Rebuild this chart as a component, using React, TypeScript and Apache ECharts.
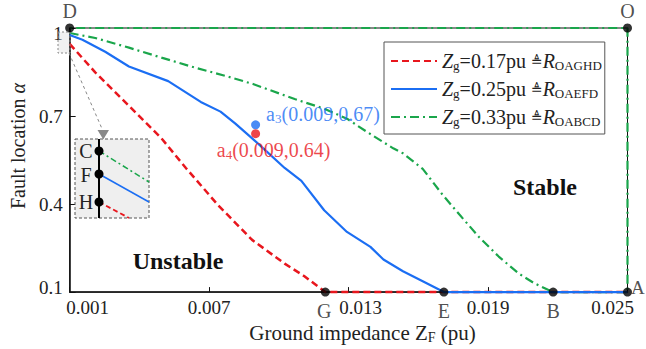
import React, { useEffect, useRef } from "react";
import * as echarts from "echarts";

// Stability boundaries: fault location α versus ground impedance Z_F (pu)
const redX = [0.001, 0.0021, 0.00355, 0.00495, 0.006, 0.0074, 0.00885, 0.01025, 0.0111, 0.012];
const redY = [0.946, 0.849, 0.735, 0.624, 0.523, 0.395, 0.278, 0.197, 0.154, 0.1];

const blueX = [0.001, 0.00155, 0.00253, 0.00355, 0.00524, 0.00664, 0.00749, 0.00813, 0.00919, 0.01025, 0.01097, 0.01195, 0.01293, 0.01394, 0.0145, 0.01534, 0.01619, 0.0171];
const blueY = [0.976, 0.96, 0.919, 0.869, 0.819, 0.748, 0.715, 0.674, 0.6, 0.523, 0.479, 0.379, 0.305, 0.254, 0.211, 0.171, 0.137, 0.1];

const greenX = [0.001, 0.0021, 0.00355, 0.00495, 0.00635, 0.00779, 0.00889, 0.01068, 0.01195, 0.01293, 0.01377, 0.01492, 0.01534, 0.01619, 0.01704, 0.01776, 0.01861, 0.01946, 0.02031, 0.02099, 0.0218];
const greenY = [0.983, 0.966, 0.933, 0.899, 0.866, 0.835, 0.809, 0.758, 0.725, 0.691, 0.647, 0.59, 0.573, 0.52, 0.432, 0.365, 0.288, 0.221, 0.164, 0.13, 0.1];

const zgValues = [0.17, 0.25, 0.33];
const regionNames = ["OAGHD", "OAEFD", "OABCD"];

// Corner / boundary points of the regions
const pointNames = ["D", "O", "A", "G", "E", "B"];
const pointX = [0.001, 0.025, 0.025, 0.012, 0.0171, 0.0218];
const pointY = [1, 1, 0.1, 0.1, 0.1, 0.1];

// Operating points
const opSub = ["3", "4"];
const opX = [0.009, 0.009];
const opY = [0.67, 0.64];

const xTickLabels = ["0.001", "0.007", "0.013", "0.019", "0.025"];
const yTickLabels = ["0.1", "0.4", "0.7", "1"];

const SERIF = "Liberation Serif";
const RED = "#e8161d";
const BLUE = "#1b6ef3";
const GREEN = "#1aa64b";
const INK = "#222";

const subStyle = { fontSize: 13, fontFamily: SERIF, verticalAlign: "bottom", lineHeight: 22 };

// label nudges so that end labels sit inside the frame and clear the point letters
const xLabelPad = [[0, 0, 0, 36], [0, 0, 0, 0], [0, 0, 0, 24], [0, 0, 0, 0], [0, 30, 0, 0]];
const yLabelPad = [[0, 0, 9, 0], [0, 0, 0, 0], [0, 0, 0, 0], [10, 0, 0, 0]];

export default function App() {
  const ref = useRef<HTMLDivElement>(null);

  useEffect(() => {
    if (!ref.current) return;
    const chart = echarts.init(ref.current, null, { renderer: "svg" });

    const zip = (xs: number[], ys: number[]) => xs.map((x, i) => [x, ys[i]]);
    const xMax = Number(xTickLabels[xTickLabels.length - 1]);
    const xMin = Number(xTickLabels[0]);
    const yMin = Number(yTickLabels[0]);
    const yMax = Number(yTickLabels[yTickLabels.length - 1]);
    const corner = [xMax, yMin];

    const seriesNames = zgValues.map((z, i) => `Zg=${z}pu ${regionNames[i]}`);
    const colors = [RED, BLUE, GREEN];
    const dashes: any[] = [[7, 4], "solid", [9, 4, 2, 4]];
    const curves = [
      [...zip(redX, redY), corner],
      [...zip(blueX, blueY), corner],
      [...zip(greenX, greenY), corner, [xMax, yMax], [xMin, yMax]],
    ];
    const zs = [3, 5, 4];

    const lineSeries = curves.map((data, i) => ({
      type: "line",
      name: seriesNames[i],
      data,
      symbol: "none",
      showSymbol: false,
      clip: false,
      z: zs[i],
      lineStyle: { color: colors[i], width: i === 0 ? 2.5 : 2.2, type: dashes[i] },
      itemStyle: { color: colors[i] },
    }));

    const labelPos: Record<string, any> = {
      D: { position: "top", distance: 3 },
      O: { position: "top", distance: 3 },
      A: { position: "right", distance: 0, offset: [-1, -5], fontSize: 19 },
      G: { position: "bottom", distance: 4, offset: [-1, 0] },
      E: { position: "bottom", distance: 4 },
      B: { position: "bottom", distance: 4 },
    };

    const tickRich = (labels: string[], pads: number[][]) => {
      const rich: Record<string, any> = {};
      labels.forEach((_, i) => {
        rich[`k${i}`] = { fontFamily: SERIF, fontSize: 19, color: INK, padding: pads[i] };
      });
      return rich;
    };
    const tickFormatter = (labels: string[]) => (v: number) => {
      const i = labels.findIndex((s) => Math.abs(Number(s) - v) < 1e-9);
      return i < 0 ? "" : `{k${i}|${labels[i]}}`;
    };

    const option: any = {
      animation: false,
      grid: { left: 62, right: 18.5, top: 28, bottom: 53, show: true, borderColor: "#111", borderWidth: 1 },
      legend: {
        orient: "vertical",
        left: 384,
        top: 42,
        padding: [8, 3, 6, 6],
        itemGap: 6,
        itemWidth: 46,
        itemHeight: 14,
        borderColor: "#555",
        borderWidth: 1,
        backgroundColor: "#fff",
        selectedMode: false,
        itemStyle: { opacity: 0 },
        data: seriesNames,
        formatter: (name: string) => {
          const i = seriesNames.indexOf(name);
          return `{i|Z}{s|g}{t|=${zgValues[i]}pu }{e|≜}{i|R}{s|${regionNames[i]}}`;
        },
        textStyle: {
          color: INK,
          fontFamily: SERIF,
          fontSize: 20,
          lineHeight: 22,
          rich: {
            i: { fontStyle: "italic", fontFamily: SERIF, fontSize: 20, color: INK, lineHeight: 22 },
            t: { fontFamily: SERIF, fontSize: 20, color: INK, lineHeight: 22 },
            e: { fontFamily: "DejaVu Sans", fontSize: 14, color: INK, lineHeight: 22 },
            s: { ...subStyle, color: INK },
          },
        },
      },
      xAxis: {
        type: "value",
        min: xMin,
        max: xMax,
        name: "Ground impedance {n|Z}{s|F} (pu)",
        nameLocation: "middle",
        nameGap: 24,
        nameTextStyle: {
          color: INK,
          fontFamily: SERIF,
          fontSize: 21,
          padding: [0, 0, 0, 28],
          rich: {
            n: { fontFamily: SERIF, fontSize: 21, color: INK, lineHeight: 23 },
            s: { ...subStyle, fontSize: 14, lineHeight: 23, color: INK },
          },
        },
        axisLine: { show: true, onZero: false, lineStyle: { color: "#111", width: 1.5 } },
        axisTick: { show: true, inside: true, length: 5, customValues: xTickLabels.map(Number), lineStyle: { color: "#111" } },
        axisLabel: {
          customValues: xTickLabels.map(Number),
          formatter: tickFormatter(xTickLabels),
          rich: tickRich(xTickLabels, xLabelPad),
          fontFamily: SERIF,
          fontSize: 19,
          color: INK,
          margin: 6,
        },
        splitLine: { show: false },
      },
      yAxis: {
        type: "value",
        min: yMin,
        max: yMax,
        name: "Fault location {a|α}",
        nameLocation: "middle",
        nameGap: 31,
        nameTextStyle: {
          color: INK,
          fontFamily: SERIF,
          fontSize: 20,
          padding: [0, 0, 0, 28],
          rich: { a: { fontFamily: SERIF, fontStyle: "italic", fontSize: 20, color: INK } },
        },
        axisLine: { show: true, onZero: false, lineStyle: { color: "#111", width: 1.5 } },
        axisTick: { show: true, inside: true, length: 6, customValues: yTickLabels.map(Number), lineStyle: { color: "#111" } },
        axisLabel: {
          customValues: yTickLabels.map(Number),
          formatter: tickFormatter(yTickLabels),
          rich: tickRich(yTickLabels, yLabelPad),
          fontFamily: SERIF,
          fontSize: 19,
          color: INK,
          margin: 7,
        },
        splitLine: { show: false },
      },
      series: [
        ...lineSeries,
        {
          type: "scatter",
          name: "points",
          symbolSize: 9,
          clip: false,
          z: 10,
          itemStyle: { color: "#000" },
          label: { show: true, formatter: "{b}", fontFamily: SERIF, fontSize: 20, color: INK },
          data: pointNames.map((n, i) => ({ name: n, value: [pointX[i], pointY[i]], label: labelPos[n] })),
        },
        {
          type: "scatter",
          name: "operating",
          symbolSize: 9,
          clip: false,
          z: 10,
          data: opX.map((x, i) => {
            const c = i === 0 ? BLUE : RED;
            return {
              name: `a${opSub[i]}`,
              value: [x, opY[i]],
              itemStyle: { color: c },
              label: {
                show: true,
                formatter: `{n|a}{s|${opSub[i]}}{n|(${x},${opY[i]})}`,
                ...(i === 0
                  ? { position: "right", distance: 6, offset: [0, -11] }
                  : { position: "bottom", distance: 1, offset: [18, 0] }),
                rich: {
                  n: { fontFamily: SERIF, fontSize: 20, color: c, lineHeight: 22 },
                  s: { ...subStyle, color: c },
                },
              },
            };
          }),
        },
      ],
      graphic: [
        // small dashed window near D
        { type: "rect", z: 100, shape: { x: 58, y: 32, width: 12, height: 21 }, style: { fill: "rgba(200,200,200,0.25)", stroke: "#888", lineWidth: 1, lineDash: [2, 2] } },
        { type: "line", z: 100, shape: { x1: 69, y1: 53, x2: 103, y2: 131 }, style: { stroke: "#888", lineWidth: 1, lineDash: [3, 3] } },
        { type: "polygon", z: 100, shape: { points: [[97.5, 130], [109, 130], [103.3, 139.5]] }, style: { fill: "#888" } },
        // magnified view
        { type: "rect", z: 100, shape: { x: 75, y: 139, width: 74, height: 79 }, style: { fill: "#efefef", stroke: "#555", lineWidth: 1, lineDash: [3, 2] } },
        { type: "line", z: 101, shape: { x1: 99, y1: 151, x2: 149, y2: 182 }, style: { stroke: GREEN, lineWidth: 1.5, lineDash: [6, 3, 2, 3] } },
        { type: "line", z: 101, shape: { x1: 99, y1: 174, x2: 149, y2: 202 }, style: { stroke: BLUE, lineWidth: 1.5 } },
        { type: "line", z: 101, shape: { x1: 99, y1: 202, x2: 129, y2: 218 }, style: { stroke: RED, lineWidth: 1.8, lineDash: [5, 3] } },
        { type: "line", z: 102, shape: { x1: 99, y1: 139, x2: 99, y2: 218 }, style: { stroke: "#000", lineWidth: 2 } },
        { type: "circle", z: 103, shape: { cx: 99, cy: 151, r: 4.5 }, style: { fill: "#000" } },
        { type: "circle", z: 103, shape: { cx: 99, cy: 174, r: 4.5 }, style: { fill: "#000" } },
        { type: "circle", z: 103, shape: { cx: 99, cy: 202, r: 4.5 }, style: { fill: "#000" } },
        { type: "text", z: 103, x: 86, y: 151, style: { text: "C", fontFamily: SERIF, fontSize: 20, fill: INK, align: "center", verticalAlign: "middle" } },
        { type: "text", z: 103, x: 86, y: 175, style: { text: "F", fontFamily: SERIF, fontSize: 20, fill: INK, align: "center", verticalAlign: "middle" } },
        { type: "text", z: 103, x: 86, y: 202, style: { text: "H", fontFamily: SERIF, fontSize: 20, fill: INK, align: "center", verticalAlign: "middle" } },
        // region names
        { type: "text", z: 100, x: 545, y: 187, style: { text: "Stable", fontFamily: SERIF, fontWeight: "bold", fontSize: 24, fill: "#111", align: "center", verticalAlign: "middle" } },
        { type: "text", z: 100, x: 178, y: 261, style: { text: "Unstable", fontFamily: SERIF, fontWeight: "bold", fontSize: 24, fill: "#111", align: "center", verticalAlign: "middle" } },
      ],
    };

    chart.setOption(option);
    return () => chart.dispose();
  }, []);

  return <div ref={ref} style={{ position: "fixed", left: 0, top: 0, width: 646, height: 349, background: "#fff" }} />;
}
